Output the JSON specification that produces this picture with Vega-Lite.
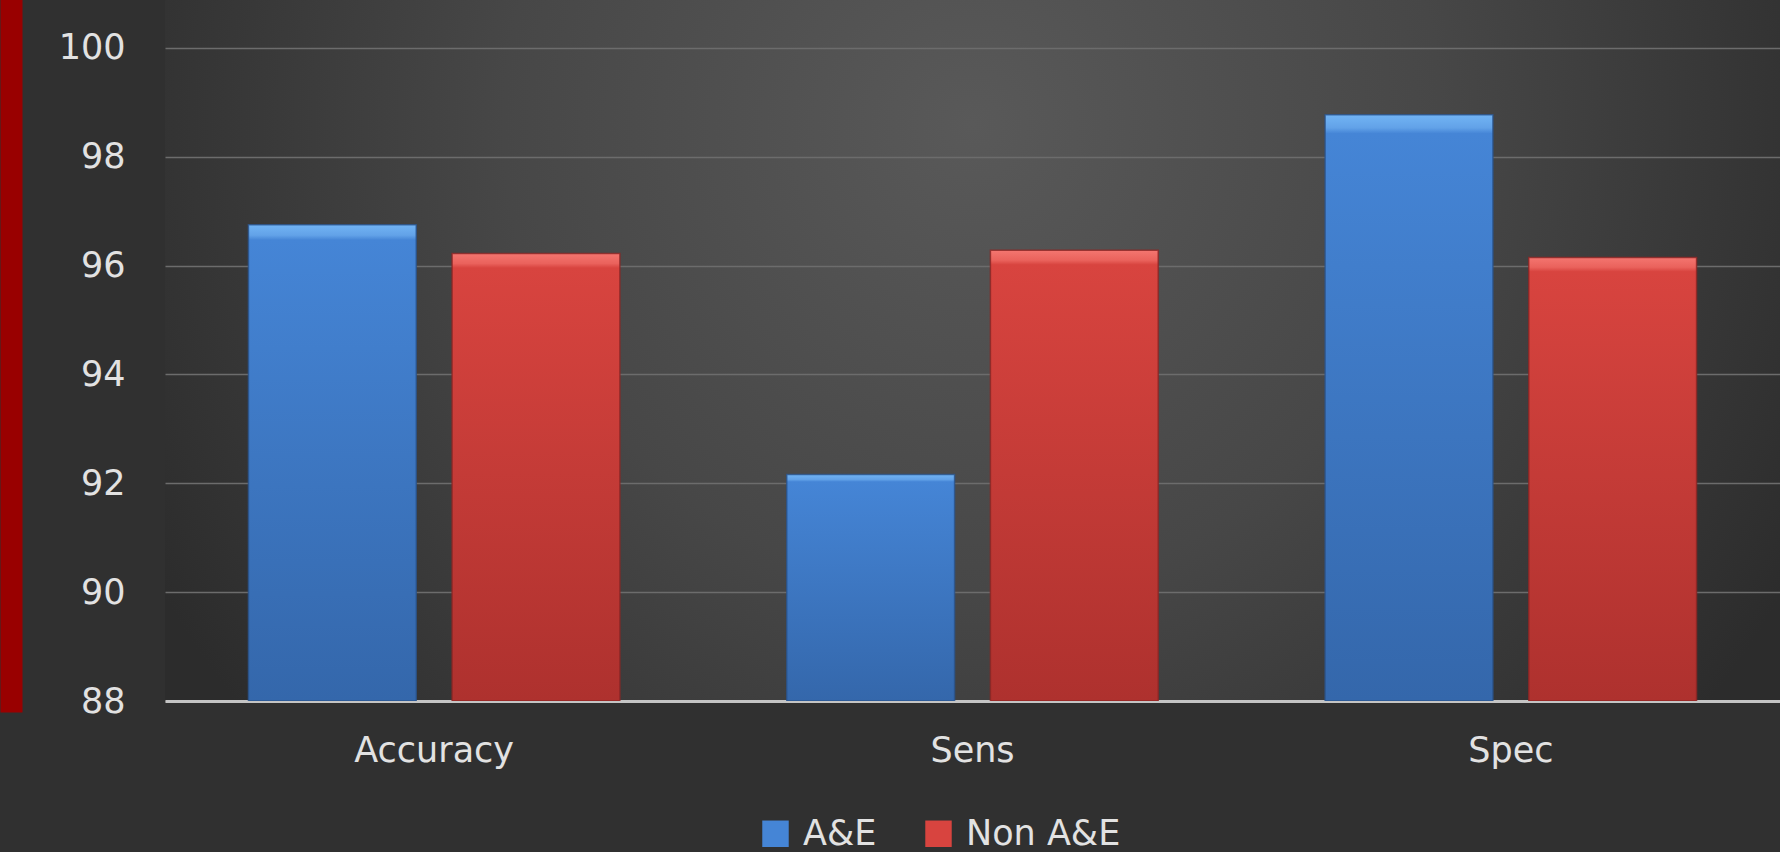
{
  "$schema": "https://vega.github.io/schema/vega-lite/v6.json",
  "autosize": {"type": "none"},
  "width": 1615,
  "height": 701,
  "padding": {"left": 165, "top": 0, "right": 0, "bottom": 151},
  "background": "#303030",
  "config": {
    "view": {
      "stroke": null,
      "fill": {
        "gradient": "radial",
        "x1": 0.5, "y1": 0.36, "r1": 0,
        "x2": 0.5, "y2": 0.36, "r2": 0.58,
        "stops": [
          {"offset": 0, "color": "#595959"},
          {"offset": 0.5, "color": "#474747"},
          {"offset": 1, "color": "#2c2c2c"}
        ]
      }
    },
    "font": "DejaVu Sans"
  },
  "data": {
    "values": [
      {"metric": "Accuracy", "group": "A&E", "value": 96.75},
      {"metric": "Accuracy", "group": "Non A&E", "value": 96.22},
      {"metric": "Sens", "group": "A&E", "value": 92.16},
      {"metric": "Sens", "group": "Non A&E", "value": 96.28},
      {"metric": "Spec", "group": "A&E", "value": 98.77},
      {"metric": "Spec", "group": "Non A&E", "value": 96.15}
    ]
  },
  "layer": [
    {
      "mark": {"type": "bar", "clip": true, "strokeWidth": 1.5, "strokeOpacity": 0.8},
      "encoding": {
        "x": {
          "field": "metric",
          "type": "nominal",
          "sort": ["Accuracy", "Sens", "Spec"],
          "scale": {"paddingInner": 0.31, "paddingOuter": 0.155},
          "axis": {
            "title": null,
            "labelAngle": 0,
            "labelFontSize": 35,
            "labelColor": "#e2e2e2",
            "labelPadding": 32,
            "ticks": false,
            "domainColor": "#c4c4c4",
            "domainWidth": 3
          }
        },
        "xOffset": {
          "field": "group",
          "type": "nominal",
          "sort": ["A&E", "Non A&E"],
          "scale": {"paddingInner": 0.176, "paddingOuter": 0}
        },
        "y": {
          "field": "value",
          "type": "quantitative",
          "scale": {"domain": [88, 100.88], "zero": false, "nice": false},
          "axis": {
            "title": null,
            "values": [88, 90, 92, 94, 96, 98, 100],
            "labelFontSize": 35,
            "labelColor": "#e2e2e2",
            "labelPadding": 40,
            "ticks": false,
            "domain": false,
            "gridColor": "#6c6c6c",
            "gridWidth": 1.5
          }
        },
        "y2": {"datum": 88},
        "stroke": {
          "condition": {"test": "datum.group === 'A&E'", "value": "#2a548c"},
          "value": "#8c2624"
        },
        "fill": {
          "condition": {
            "test": "datum.group === 'A&E'",
            "value": {"gradient": "linear", "x1": 0, "y1": 0, "x2": 0, "y2": 1,
              "stops": [
                {"offset": 0, "color": "#72b4f4"},
                {"offset": 0.022, "color": "#62a2e8"},
                {"offset": 0.032, "color": "#4585d6"},
                {"offset": 1, "color": "#3467ab"}
              ]}
          },
          "value": {"gradient": "linear", "x1": 0, "y1": 0, "x2": 0, "y2": 1,
            "stops": [
              {"offset": 0, "color": "#f47670"},
              {"offset": 0.022, "color": "#ea625c"},
              {"offset": 0.032, "color": "#d8443f"},
              {"offset": 1, "color": "#ae312e"}
            ]}
        }
      }
    },
    {
      "mark": {"type": "square", "size": 0, "filled": true},
      "encoding": {
        "x": {"field": "metric", "type": "nominal", "sort": ["Accuracy", "Sens", "Spec"]},
        "y": {
          "field": "value",
          "type": "quantitative",
          "scale": {"domain": [88, 100.88], "zero": false, "nice": false},
          "axis": {
            "orient": "left",
            "offset": 154,
            "title": null,
            "labels": false,
            "ticks": false,
            "grid": false,
            "domainColor": "#990000",
            "domainWidth": 22,
            "domainCap": "square"
          }
        },
        "color": {
          "field": "group",
          "type": "nominal",
          "scale": {"domain": ["A&E", "Non A&E"], "range": ["#4585d6", "#d8443f"]},
          "legend": {
            "title": null,
            "orient": "none",
            "legendX": 593,
            "legendY": 816,
            "direction": "horizontal",
            "labelFontSize": 35,
            "labelColor": "#e2e2e2",
            "symbolType": "square",
            "symbolSize": 700,
            "symbolOpacity": 1,
            "symbolStrokeWidth": 0,
            "columnPadding": 44,
            "labelOffset": 10
          }
        }
      }
    }
  ],
  "resolve": {"scale": {"y": "independent"}}
}
